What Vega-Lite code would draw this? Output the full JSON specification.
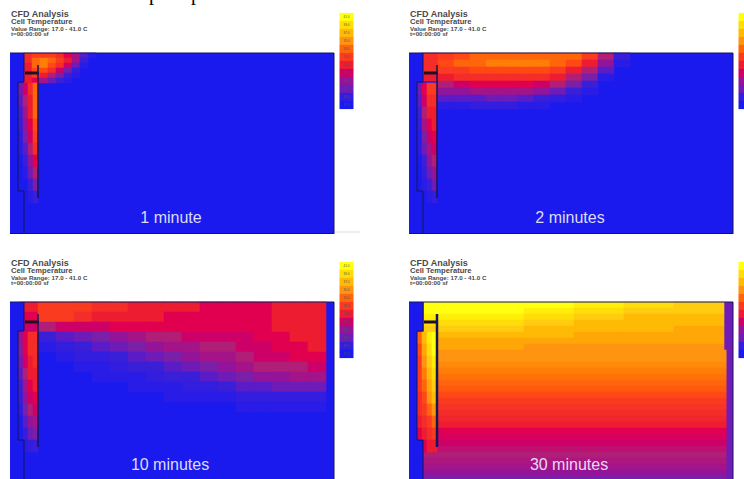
{"$schema":"https://vega.github.io/schema/vega-lite/v6.json","padding":0,"spacing":0,"background":"white","config":{"view":{"stroke":null}},
"datasets":{
"bg":[{"x":0,"x2":324,"y":0,"y2":181,"t":17}],
"bg4":[{"x":0,"x2":324,"y":0,"y2":181,"t":22}],
"walls":[{"x":0,"x2":14,"y":0,"y2":29,"t":17},{"x":0,"x2":8,"y":29,"y2":138,"t":17},{"x":0,"x2":14,"y":138,"y2":181,"t":17}],
"vl":[{"x":14,"y":0,"y2":29},{"x":8,"y":29,"y2":138},{"x":14,"y":138,"y2":181},{"x":324,"y":0,"y2":181}],
"hl":[{"x":0,"x2":324,"y":0},{"x":8,"x2":14,"y":29},{"x":8,"x2":14,"y":138},{"x":0,"x2":324,"y":180.5}],
"gl":[{"x":325,"x2":350,"y":179}],
"bar":[{"x":15,"x2":29,"y":20}],
"plate":[{"x":28,"y":12,"y2":145}],
"lg":[{"x":336.5,"y":-36,"t":41},{"x":336.5,"y":-28,"t":39},{"x":336.5,"y":-20,"t":37},{"x":336.5,"y":-12,"t":35},{"x":336.5,"y":-4,"t":33},{"x":336.5,"y":4,"t":31},{"x":336.5,"y":12,"t":29},{"x":336.5,"y":20,"t":27},{"x":336.5,"y":28,"t":24},{"x":336.5,"y":36,"t":22},{"x":336.5,"y":44,"t":19},{"x":336.5,"y":52,"t":17}],
"head":[{"k":1,"x":1,"y":-36,"label":"CFD Analysis"},{"k":2,"x":1,"y":-29,"label":"Cell Temperature"},{"k":3,"x":1,"y":-22,"label":"Value Range: 17.0 - 41.0 C"},{"k":3,"x":1,"y":-17,"label":"t=00:00:00 sf"}],
"top":[{"x":139,"y":-53,"label":"p"},{"x":181,"y":-53,"label":"p"}],
"s1":[{"x":10.5,"y":36,"t":22},{"x":15.5,"y":36,"t":27},{"x":20.5,"y":36,"t":30},{"x":25.5,"y":36,"t":33},{"x":10.5,"y":48,"t":21},{"x":15.5,"y":48,"t":26},{"x":20.5,"y":48,"t":29},{"x":25.5,"y":48,"t":33},{"x":10.5,"y":60,"t":20},{"x":15.5,"y":60,"t":25},{"x":20.5,"y":60,"t":29},{"x":25.5,"y":60,"t":33},{"x":10.5,"y":72,"t":19},{"x":15.5,"y":72,"t":24},{"x":20.5,"y":72,"t":28},{"x":25.5,"y":72,"t":32},{"x":10.5,"y":84,"t":18},{"x":15.5,"y":84,"t":23},{"x":20.5,"y":84,"t":27},{"x":25.5,"y":84,"t":31},{"x":10.5,"y":96,"t":18},{"x":15.5,"y":96,"t":21},{"x":20.5,"y":96,"t":26},{"x":25.5,"y":96,"t":30},{"x":10.5,"y":108,"t":17},{"x":15.5,"y":108,"t":20},{"x":20.5,"y":108,"t":24},{"x":25.5,"y":108,"t":28},{"x":10.5,"y":120,"t":17},{"x":15.5,"y":120,"t":18},{"x":20.5,"y":120,"t":22},{"x":25.5,"y":120,"t":26},{"x":15.5,"y":132,"t":17},{"x":20.5,"y":132,"t":20},{"x":25.5,"y":132,"t":23},{"x":20.5,"y":144,"t":18},{"x":25.5,"y":144,"t":20}],
"s2":[{"x":10.5,"y":36,"t":22},{"x":15.5,"y":36,"t":28},{"x":20.5,"y":36,"t":31},{"x":25.5,"y":36,"t":31},{"x":10.5,"y":48,"t":21},{"x":15.5,"y":48,"t":27},{"x":20.5,"y":48,"t":30},{"x":25.5,"y":48,"t":30},{"x":10.5,"y":60,"t":20},{"x":15.5,"y":60,"t":26},{"x":20.5,"y":60,"t":29},{"x":25.5,"y":60,"t":29},{"x":10.5,"y":72,"t":19},{"x":15.5,"y":72,"t":25},{"x":20.5,"y":72,"t":28},{"x":25.5,"y":72,"t":29},{"x":10.5,"y":84,"t":18},{"x":15.5,"y":84,"t":23},{"x":20.5,"y":84,"t":27},{"x":25.5,"y":84,"t":28},{"x":10.5,"y":96,"t":18},{"x":15.5,"y":96,"t":22},{"x":20.5,"y":96,"t":25},{"x":25.5,"y":96,"t":27},{"x":10.5,"y":108,"t":17},{"x":15.5,"y":108,"t":20},{"x":20.5,"y":108,"t":24},{"x":25.5,"y":108,"t":26},{"x":10.5,"y":120,"t":17},{"x":15.5,"y":120,"t":19},{"x":20.5,"y":120,"t":22},{"x":25.5,"y":120,"t":24},{"x":15.5,"y":132,"t":18},{"x":20.5,"y":132,"t":20},{"x":25.5,"y":132,"t":22},{"x":20.5,"y":144,"t":18},{"x":25.5,"y":144,"t":19}],
"s3":[{"x":10.5,"y":36,"t":24},{"x":15.5,"y":36,"t":28},{"x":20.5,"y":36,"t":30},{"x":25.5,"y":36,"t":30},{"x":10.5,"y":48,"t":23},{"x":15.5,"y":48,"t":28},{"x":20.5,"y":48,"t":30},{"x":25.5,"y":48,"t":30},{"x":10.5,"y":60,"t":22},{"x":15.5,"y":60,"t":27},{"x":20.5,"y":60,"t":29},{"x":25.5,"y":60,"t":30},{"x":10.5,"y":72,"t":21},{"x":15.5,"y":72,"t":26},{"x":20.5,"y":72,"t":29},{"x":25.5,"y":72,"t":29},{"x":10.5,"y":84,"t":20},{"x":15.5,"y":84,"t":25},{"x":20.5,"y":84,"t":28},{"x":25.5,"y":84,"t":29},{"x":10.5,"y":96,"t":19},{"x":15.5,"y":96,"t":24},{"x":20.5,"y":96,"t":27},{"x":25.5,"y":96,"t":28},{"x":10.5,"y":108,"t":18},{"x":15.5,"y":108,"t":23},{"x":20.5,"y":108,"t":26},{"x":25.5,"y":108,"t":27},{"x":10.5,"y":120,"t":17},{"x":15.5,"y":120,"t":21},{"x":20.5,"y":120,"t":24},{"x":25.5,"y":120,"t":25},{"x":15.5,"y":132,"t":19},{"x":20.5,"y":132,"t":22},{"x":25.5,"y":132,"t":23},{"x":15.5,"y":144,"t":18},{"x":20.5,"y":144,"t":19},{"x":25.5,"y":144,"t":20}],
"s4":[{"x":10.5,"y":36,"t":33},{"x":15.5,"y":36,"t":37},{"x":20.5,"y":36,"t":40},{"x":25.5,"y":36,"t":41},{"x":10.5,"y":48,"t":32},{"x":15.5,"y":48,"t":36},{"x":20.5,"y":48,"t":39},{"x":25.5,"y":48,"t":41},{"x":10.5,"y":60,"t":31},{"x":15.5,"y":60,"t":35},{"x":20.5,"y":60,"t":38},{"x":25.5,"y":60,"t":40},{"x":10.5,"y":72,"t":31},{"x":15.5,"y":72,"t":34},{"x":20.5,"y":72,"t":37},{"x":25.5,"y":72,"t":39},{"x":10.5,"y":84,"t":31},{"x":15.5,"y":84,"t":33},{"x":20.5,"y":84,"t":36},{"x":25.5,"y":84,"t":38},{"x":10.5,"y":96,"t":30},{"x":15.5,"y":96,"t":32},{"x":20.5,"y":96,"t":35},{"x":25.5,"y":96,"t":37},{"x":10.5,"y":108,"t":30},{"x":15.5,"y":108,"t":31},{"x":20.5,"y":108,"t":33},{"x":25.5,"y":108,"t":35},{"x":10.5,"y":120,"t":29},{"x":15.5,"y":120,"t":30},{"x":20.5,"y":120,"t":31},{"x":25.5,"y":120,"t":33},{"x":10.5,"y":132,"t":28},{"x":15.5,"y":132,"t":29},{"x":20.5,"y":132,"t":30},{"x":25.5,"y":132,"t":31},{"x":15.5,"y":144,"t":28},{"x":20.5,"y":144,"t":29},{"x":25.5,"y":144,"t":29}],
"p1":[{"x":18,"y":2.5,"t":30},{"x":26,"y":2.5,"t":31},{"x":34,"y":2.5,"t":31},{"x":42,"y":2.5,"t":31},{"x":50,"y":2.5,"t":30},{"x":58,"y":2.5,"t":28},{"x":66,"y":2.5,"t":25},{"x":74,"y":2.5,"t":21},{"x":82,"y":2.5,"t":18},{"x":18,"y":7.5,"t":30},{"x":26,"y":7.5,"t":33},{"x":34,"y":7.5,"t":34},{"x":42,"y":7.5,"t":33},{"x":50,"y":7.5,"t":31},{"x":58,"y":7.5,"t":29},{"x":66,"y":7.5,"t":25},{"x":74,"y":7.5,"t":20},{"x":18,"y":12.5,"t":29},{"x":26,"y":12.5,"t":33},{"x":34,"y":12.5,"t":34},{"x":42,"y":12.5,"t":32},{"x":50,"y":12.5,"t":30},{"x":58,"y":12.5,"t":27},{"x":66,"y":12.5,"t":22},{"x":74,"y":12.5,"t":18},{"x":18,"y":17.5,"t":29},{"x":26,"y":17.5,"t":32},{"x":34,"y":17.5,"t":32},{"x":42,"y":17.5,"t":30},{"x":50,"y":17.5,"t":27},{"x":58,"y":17.5,"t":23},{"x":66,"y":17.5,"t":19},{"x":18,"y":22.5,"t":29},{"x":26,"y":22.5,"t":31},{"x":34,"y":22.5,"t":29},{"x":42,"y":22.5,"t":26},{"x":50,"y":22.5,"t":23},{"x":58,"y":22.5,"t":20},{"x":66,"y":22.5,"t":18},{"x":18,"y":27.5,"t":29},{"x":26,"y":27.5,"t":28},{"x":34,"y":27.5,"t":25},{"x":42,"y":27.5,"t":22},{"x":50,"y":27.5,"t":20},{"x":58,"y":27.5,"t":18}],
"p2":[{"x":21,"y":3.5,"t":30},{"x":37,"y":3.5,"t":31},{"x":53,"y":3.5,"t":32},{"x":69,"y":3.5,"t":33},{"x":85,"y":3.5,"t":33},{"x":101,"y":3.5,"t":33},{"x":117,"y":3.5,"t":33},{"x":133,"y":3.5,"t":33},{"x":149,"y":3.5,"t":33},{"x":165,"y":3.5,"t":33},{"x":181,"y":3.5,"t":31},{"x":197,"y":3.5,"t":26},{"x":213,"y":3.5,"t":20},{"x":21,"y":10.5,"t":30},{"x":37,"y":10.5,"t":32},{"x":53,"y":10.5,"t":33},{"x":69,"y":10.5,"t":33},{"x":85,"y":10.5,"t":34},{"x":101,"y":10.5,"t":34},{"x":117,"y":10.5,"t":34},{"x":133,"y":10.5,"t":34},{"x":149,"y":10.5,"t":33},{"x":165,"y":10.5,"t":32},{"x":181,"y":10.5,"t":29},{"x":197,"y":10.5,"t":24},{"x":213,"y":10.5,"t":18},{"x":21,"y":17.5,"t":30},{"x":37,"y":17.5,"t":31},{"x":53,"y":17.5,"t":31},{"x":69,"y":17.5,"t":32},{"x":85,"y":17.5,"t":32},{"x":101,"y":17.5,"t":32},{"x":117,"y":17.5,"t":32},{"x":133,"y":17.5,"t":32},{"x":149,"y":17.5,"t":31},{"x":165,"y":17.5,"t":29},{"x":181,"y":17.5,"t":26},{"x":197,"y":17.5,"t":21},{"x":21,"y":24.5,"t":29},{"x":37,"y":24.5,"t":29},{"x":53,"y":24.5,"t":30},{"x":69,"y":24.5,"t":30},{"x":85,"y":24.5,"t":30},{"x":101,"y":24.5,"t":30},{"x":117,"y":24.5,"t":30},{"x":133,"y":24.5,"t":30},{"x":149,"y":24.5,"t":29},{"x":165,"y":24.5,"t":26},{"x":181,"y":24.5,"t":23},{"x":197,"y":24.5,"t":18},{"x":37,"y":31.5,"t":26},{"x":53,"y":31.5,"t":27},{"x":69,"y":31.5,"t":28},{"x":85,"y":31.5,"t":28},{"x":101,"y":31.5,"t":28},{"x":117,"y":31.5,"t":28},{"x":133,"y":31.5,"t":27},{"x":149,"y":31.5,"t":26},{"x":165,"y":31.5,"t":23},{"x":181,"y":31.5,"t":20},{"x":37,"y":38.5,"t":24},{"x":53,"y":38.5,"t":24},{"x":69,"y":38.5,"t":25},{"x":85,"y":38.5,"t":25},{"x":101,"y":38.5,"t":25},{"x":117,"y":38.5,"t":25},{"x":133,"y":38.5,"t":24},{"x":149,"y":38.5,"t":22},{"x":165,"y":38.5,"t":20},{"x":181,"y":38.5,"t":18},{"x":37,"y":45.5,"t":21},{"x":53,"y":45.5,"t":21},{"x":69,"y":45.5,"t":21},{"x":85,"y":45.5,"t":22},{"x":101,"y":45.5,"t":22},{"x":117,"y":45.5,"t":21},{"x":133,"y":45.5,"t":20},{"x":149,"y":45.5,"t":19},{"x":165,"y":45.5,"t":18},{"x":37,"y":52.5,"t":18},{"x":53,"y":52.5,"t":18},{"x":69,"y":52.5,"t":19},{"x":85,"y":52.5,"t":19},{"x":101,"y":52.5,"t":19},{"x":117,"y":52.5,"t":18},{"x":133,"y":52.5,"t":18}],
"p3":[{"x":19,"y":5,"t":29},{"x":37,"y":5,"t":31},{"x":55,"y":5,"t":31},{"x":73,"y":5,"t":31},{"x":91,"y":5,"t":30},{"x":109,"y":5,"t":30},{"x":127,"y":5,"t":29},{"x":145,"y":5,"t":29},{"x":163,"y":5,"t":29},{"x":181,"y":5,"t":29},{"x":199,"y":5,"t":28},{"x":217,"y":5,"t":28},{"x":235,"y":5,"t":28},{"x":253,"y":5,"t":28},{"x":271,"y":5,"t":29},{"x":289,"y":5,"t":29},{"x":307,"y":5,"t":29},
{"x":19,"y":15,"t":28},{"x":37,"y":15,"t":31},{"x":55,"y":15,"t":31},{"x":73,"y":15,"t":30},{"x":91,"y":15,"t":29},{"x":109,"y":15,"t":29},{"x":127,"y":15,"t":29},{"x":145,"y":15,"t":29},{"x":163,"y":15,"t":28},{"x":181,"y":15,"t":28},{"x":199,"y":15,"t":28},{"x":217,"y":15,"t":28},{"x":235,"y":15,"t":28},{"x":253,"y":15,"t":28},{"x":271,"y":15,"t":29},{"x":289,"y":15,"t":29},{"x":307,"y":15,"t":29},
{"x":19,"y":25,"t":27},{"x":37,"y":25,"t":26},{"x":55,"y":25,"t":27},{"x":73,"y":25,"t":27},{"x":91,"y":25,"t":27},{"x":109,"y":25,"t":28},{"x":127,"y":25,"t":28},{"x":145,"y":25,"t":28},{"x":163,"y":25,"t":28},{"x":181,"y":25,"t":28},{"x":199,"y":25,"t":28},{"x":217,"y":25,"t":28},{"x":235,"y":25,"t":28},{"x":253,"y":25,"t":28},{"x":271,"y":25,"t":29},{"x":289,"y":25,"t":29},{"x":307,"y":25,"t":29},
{"x":37,"y":35,"t":20},{"x":55,"y":35,"t":21},{"x":73,"y":35,"t":22},{"x":91,"y":35,"t":23},{"x":109,"y":35,"t":24},{"x":127,"y":35,"t":25},{"x":145,"y":35,"t":26},{"x":163,"y":35,"t":26},{"x":181,"y":35,"t":27},{"x":199,"y":35,"t":27},{"x":217,"y":35,"t":27},{"x":235,"y":35,"t":27},{"x":253,"y":35,"t":28},{"x":271,"y":35,"t":28},{"x":289,"y":35,"t":29},{"x":307,"y":35,"t":29},
{"x":37,"y":45,"t":18},{"x":55,"y":45,"t":19},{"x":73,"y":45,"t":20},{"x":91,"y":45,"t":21},{"x":109,"y":45,"t":22},{"x":127,"y":45,"t":23},{"x":145,"y":45,"t":24},{"x":163,"y":45,"t":25},{"x":181,"y":45,"t":25},{"x":199,"y":45,"t":26},{"x":217,"y":45,"t":26},{"x":235,"y":45,"t":27},{"x":253,"y":45,"t":27},{"x":271,"y":45,"t":28},{"x":289,"y":45,"t":28},{"x":307,"y":45,"t":29},
{"x":55,"y":55,"t":18},{"x":73,"y":55,"t":19},{"x":91,"y":55,"t":19},{"x":109,"y":55,"t":20},{"x":127,"y":55,"t":21},{"x":145,"y":55,"t":22},{"x":163,"y":55,"t":23},{"x":181,"y":55,"t":24},{"x":199,"y":55,"t":25},{"x":217,"y":55,"t":25},{"x":235,"y":55,"t":26},{"x":253,"y":55,"t":27},{"x":271,"y":55,"t":27},{"x":289,"y":55,"t":28},{"x":307,"y":55,"t":28},
{"x":73,"y":65,"t":18},{"x":91,"y":65,"t":18},{"x":109,"y":65,"t":19},{"x":127,"y":65,"t":20},{"x":145,"y":65,"t":20},{"x":163,"y":65,"t":21},{"x":181,"y":65,"t":22},{"x":199,"y":65,"t":23},{"x":217,"y":65,"t":24},{"x":235,"y":65,"t":25},{"x":253,"y":65,"t":26},{"x":271,"y":65,"t":26},{"x":289,"y":65,"t":26},{"x":307,"y":65,"t":27},
{"x":91,"y":75,"t":18},{"x":109,"y":75,"t":18},{"x":127,"y":75,"t":18},{"x":145,"y":75,"t":19},{"x":163,"y":75,"t":20},{"x":181,"y":75,"t":20},{"x":199,"y":75,"t":21},{"x":217,"y":75,"t":22},{"x":235,"y":75,"t":23},{"x":253,"y":75,"t":24},{"x":271,"y":75,"t":24},{"x":289,"y":75,"t":25},{"x":307,"y":75,"t":25},
{"x":127,"y":85,"t":18},{"x":145,"y":85,"t":18},{"x":163,"y":85,"t":18},{"x":181,"y":85,"t":19},{"x":199,"y":85,"t":19},{"x":217,"y":85,"t":20},{"x":235,"y":85,"t":21},{"x":253,"y":85,"t":21},{"x":271,"y":85,"t":22},{"x":289,"y":85,"t":22},{"x":307,"y":85,"t":22},
{"x":163,"y":95,"t":18},{"x":181,"y":95,"t":18},{"x":199,"y":95,"t":18},{"x":217,"y":95,"t":18},{"x":235,"y":95,"t":19},{"x":253,"y":95,"t":19},{"x":271,"y":95,"t":19},{"x":289,"y":95,"t":19},{"x":307,"y":95,"t":19},
{"x":235,"y":105,"t":18},{"x":253,"y":105,"t":18},{"x":271,"y":105,"t":18},{"x":289,"y":105,"t":18},{"x":307,"y":105,"t":18}],
"p4a":[{"x":40,"y":3,"t":41},{"x":90,"y":3,"t":41},{"x":140,"y":3,"t":41},{"x":190,"y":3,"t":40},{"x":240,"y":3,"t":39},{"x":290,"y":3,"t":38},{"x":40,"y":9,"t":41},{"x":90,"y":9,"t":41},{"x":140,"y":9,"t":40},{"x":190,"y":9,"t":39},{"x":240,"y":9,"t":38},{"x":290,"y":9,"t":38},{"x":40,"y":15,"t":40},{"x":90,"y":15,"t":40},{"x":140,"y":15,"t":39},{"x":190,"y":15,"t":38},{"x":240,"y":15,"t":37},{"x":290,"y":15,"t":37},{"x":40,"y":21,"t":39},{"x":90,"y":21,"t":39},{"x":140,"y":21,"t":38},{"x":190,"y":21,"t":37},{"x":240,"y":21,"t":37},{"x":290,"y":21,"t":37},{"x":40,"y":27,"t":38},{"x":90,"y":27,"t":38},{"x":140,"y":27,"t":37},{"x":190,"y":27,"t":37},{"x":240,"y":27,"t":37},{"x":290,"y":27,"t":36},{"x":40,"y":33,"t":37},{"x":90,"y":33,"t":37},{"x":140,"y":33,"t":37},{"x":190,"y":33,"t":36},{"x":240,"y":33,"t":36},{"x":290,"y":33,"t":36},{"x":40,"y":39,"t":36},{"x":90,"y":39,"t":36},{"x":140,"y":39,"t":36},{"x":190,"y":39,"t":36},{"x":240,"y":39,"t":36},{"x":290,"y":39,"t":36},{"x":40,"y":45,"t":36},{"x":90,"y":45,"t":36},{"x":140,"y":45,"t":35},{"x":190,"y":45,"t":35},{"x":240,"y":45,"t":35},{"x":290,"y":45,"t":35}],
"p4b":[{"x":166,"y":51,"t":35},{"x":166,"y":57,"t":35},{"x":166,"y":63,"t":34.5},{"x":166,"y":69,"t":34},{"x":166,"y":75,"t":33.5},{"x":166,"y":81,"t":33},{"x":166,"y":87,"t":32.5},{"x":166,"y":93,"t":32},{"x":166,"y":99,"t":31},{"x":166,"y":105,"t":30.5},{"x":166,"y":111,"t":30},{"x":166,"y":117,"t":29.5},{"x":166,"y":123,"t":29},{"x":166,"y":129,"t":28},{"x":166,"y":135,"t":27.5},{"x":166,"y":141,"t":27},{"x":166,"y":147,"t":26.5},{"x":166,"y":153,"t":26},{"x":166,"y":159,"t":25.5},{"x":166,"y":165,"t":25},{"x":166,"y":171,"t":24},{"x":166,"y":177,"t":23}]
},
"vconcat":[
{"spacing":0,"hconcat":[
{"width":399,"height":249,"encoding":{"x":{"field":"x","type":"quantitative","axis":null,"scale":{"domain":[-10,389],"nice":false,"zero":false}},"y":{"field":"y","type":"quantitative","axis":null,"scale":{"domain":[-53,196],"reverse":true,"nice":false,"zero":false}},"color":{"field":"t","type":"quantitative","legend":null,"scale":{"domain":[17,20,23,26,29,32,35,38,41],"range":["#1a1aee","#3a1fd8","#7a1fa8","#b01e78","#ee1c30","#ff4814","#ff9410","#ffcc10","#ffff10"]}}},
"layer":[
{"data":{"name":"bg"},"mark":{"type":"rect","clip":true},"encoding":{"x2":{"field":"x2"},"y2":{"field":"y2"}}},
{"data":{"name":"p1"},"mark":{"type":"rect","width":8.6,"height":5.6}},
{"data":{"name":"s1"},"mark":{"type":"rect","width":5.6,"height":12.6}},
{"data":{"name":"walls"},"mark":{"type":"rect","clip":true},"encoding":{"x2":{"field":"x2"},"y2":{"field":"y2"}}},
{"data":{"name":"vl"},"mark":{"type":"rule","strokeWidth":1,"clip":true},"encoding":{"y2":{"field":"y2"},"color":{"value":"#14145a"}}},
{"data":{"name":"hl"},"mark":{"type":"rule","strokeWidth":1,"clip":true},"encoding":{"x2":{"field":"x2"},"color":{"value":"#14145a"}}},
{"data":{"name":"gl"},"mark":{"type":"rule","strokeWidth":1},"encoding":{"x2":{"field":"x2"},"color":{"value":"#dddddd"}}},
{"data":{"name":"bar"},"mark":{"type":"rule","strokeWidth":3},"encoding":{"x2":{"field":"x2"},"color":{"value":"#201020"}}},
{"data":{"name":"plate"},"mark":{"type":"rule","strokeWidth":1.5},"encoding":{"y2":{"field":"y2"},"color":{"value":"#14145a"}}},
{"data":{"name":"lg"},"mark":{"type":"rect","width":14,"height":8.2,"clip":true}},
{"data":{"name":"lg"},"mark":{"type":"text","fontSize":3,"clip":true,"font":"Liberation Sans"},"encoding":{"text":{"field":"t","format":".1f"},"color":{"value":"#555555"}}},
{"data":{"name":"head"},"mark":{"type":"text","align":"left","baseline":"alphabetic","font":"Liberation Sans","fontWeight":"bold"},"encoding":{"text":{"field":"label"},"color":{"value":"#4a4a4a"},"size":{"field":"k","type":"ordinal","legend":null,"scale":{"domain":[1,2,3],"range":[9,6.2,4.4]}}}},
{"data":{"name":"top"},"mark":{"type":"text","align":"left","baseline":"alphabetic","clip":true,"font":"Liberation Serif","fontSize":20},"encoding":{"text":{"field":"label"},"color":{"value":"#000000"}}},
{"data":{"values":[{"x":161,"y":170,"label":"1 minute"}]},"mark":{"type":"text","baseline":"alphabetic","font":"Liberation Sans","fontSize":16},"encoding":{"text":{"field":"label"},"color":{"value":"#dcdcf8"}}}
]},
{"width":345,"height":249,"encoding":{"x":{"field":"x","type":"quantitative","axis":null,"scale":{"domain":[-10,335],"nice":false,"zero":false}},"y":{"field":"y","type":"quantitative","axis":null,"scale":{"domain":[-53,196],"reverse":true,"nice":false,"zero":false}},"color":{"field":"t","type":"quantitative","legend":null,"scale":{"domain":[17,20,23,26,29,32,35,38,41],"range":["#1a1aee","#3a1fd8","#7a1fa8","#b01e78","#ee1c30","#ff4814","#ff9410","#ffcc10","#ffff10"]}}},
"layer":[
{"data":{"name":"bg"},"mark":{"type":"rect","clip":true},"encoding":{"x2":{"field":"x2"},"y2":{"field":"y2"}}},
{"data":{"name":"p2"},"mark":{"type":"rect","width":16.6,"height":7.6}},
{"data":{"name":"s2"},"mark":{"type":"rect","width":5.6,"height":12.6}},
{"data":{"name":"walls"},"mark":{"type":"rect","clip":true},"encoding":{"x2":{"field":"x2"},"y2":{"field":"y2"}}},
{"data":{"name":"vl"},"mark":{"type":"rule","strokeWidth":1,"clip":true},"encoding":{"y2":{"field":"y2"},"color":{"value":"#14145a"}}},
{"data":{"name":"hl"},"mark":{"type":"rule","strokeWidth":1,"clip":true},"encoding":{"x2":{"field":"x2"},"color":{"value":"#14145a"}}},
{"data":{"name":"bar"},"mark":{"type":"rule","strokeWidth":3},"encoding":{"x2":{"field":"x2"},"color":{"value":"#201020"}}},
{"data":{"name":"plate"},"mark":{"type":"rule","strokeWidth":1.5},"encoding":{"y2":{"field":"y2"},"color":{"value":"#14145a"}}},
{"data":{"name":"lg"},"mark":{"type":"rect","width":14,"height":8.2,"clip":true}},
{"data":{"name":"head"},"mark":{"type":"text","align":"left","baseline":"alphabetic","font":"Liberation Sans","fontWeight":"bold"},"encoding":{"text":{"field":"label"},"color":{"value":"#4a4a4a"},"size":{"field":"k","type":"ordinal","legend":null,"scale":{"domain":[1,2,3],"range":[9,6.2,4.4]}}}},
{"data":{"values":[{"x":161,"y":170,"label":"2 minutes"}]},"mark":{"type":"text","baseline":"alphabetic","font":"Liberation Sans","fontSize":16},"encoding":{"text":{"field":"label"},"color":{"value":"#dcdcf8"}}}
]}
]},
{"spacing":0,"hconcat":[
{"width":399,"height":230,"encoding":{"x":{"field":"x","type":"quantitative","axis":null,"scale":{"domain":[-10,389],"nice":false,"zero":false}},"y":{"field":"y","type":"quantitative","axis":null,"scale":{"domain":[-53,177],"reverse":true,"nice":false,"zero":false}},"color":{"field":"t","type":"quantitative","legend":null,"scale":{"domain":[17,20,23,26,29,32,35,38,41],"range":["#1a1aee","#3a1fd8","#7a1fa8","#b01e78","#ee1c30","#ff4814","#ff9410","#ffcc10","#ffff10"]}}},
"layer":[
{"data":{"name":"bg"},"mark":{"type":"rect","clip":true},"encoding":{"x2":{"field":"x2"},"y2":{"field":"y2"}}},
{"data":{"name":"p3"},"mark":{"type":"rect","width":18.6,"height":10.6}},
{"data":{"name":"s3"},"mark":{"type":"rect","width":5.6,"height":12.6}},
{"data":{"name":"walls"},"mark":{"type":"rect","clip":true},"encoding":{"x2":{"field":"x2"},"y2":{"field":"y2"}}},
{"data":{"name":"vl"},"mark":{"type":"rule","strokeWidth":1,"clip":true},"encoding":{"y2":{"field":"y2"},"color":{"value":"#14145a"}}},
{"data":{"name":"hl"},"mark":{"type":"rule","strokeWidth":1,"clip":true},"encoding":{"x2":{"field":"x2"},"color":{"value":"#14145a"}}},
{"data":{"name":"bar"},"mark":{"type":"rule","strokeWidth":3},"encoding":{"x2":{"field":"x2"},"color":{"value":"#201020"}}},
{"data":{"name":"plate"},"mark":{"type":"rule","strokeWidth":1.5},"encoding":{"y2":{"field":"y2"},"color":{"value":"#14145a"}}},
{"data":{"name":"lg"},"mark":{"type":"rect","width":14,"height":8.2,"clip":true}},
{"data":{"name":"lg"},"mark":{"type":"text","fontSize":3,"clip":true,"font":"Liberation Sans"},"encoding":{"text":{"field":"t","format":".1f"},"color":{"value":"#555555"}}},
{"data":{"name":"head"},"mark":{"type":"text","align":"left","baseline":"alphabetic","font":"Liberation Sans","fontWeight":"bold"},"encoding":{"text":{"field":"label"},"color":{"value":"#4a4a4a"},"size":{"field":"k","type":"ordinal","legend":null,"scale":{"domain":[1,2,3],"range":[9,6.2,4.4]}}}},
{"data":{"values":[{"x":160,"y":168,"label":"10 minutes"}]},"mark":{"type":"text","baseline":"alphabetic","font":"Liberation Sans","fontSize":16},"encoding":{"text":{"field":"label"},"color":{"value":"#dcdcf8"}}}
]},
{"width":345,"height":230,"encoding":{"x":{"field":"x","type":"quantitative","axis":null,"scale":{"domain":[-10,335],"nice":false,"zero":false}},"y":{"field":"y","type":"quantitative","axis":null,"scale":{"domain":[-53,177],"reverse":true,"nice":false,"zero":false}},"color":{"field":"t","type":"quantitative","legend":null,"scale":{"domain":[17,20,23,26,29,32,35,38,41],"range":["#1a1aee","#3a1fd8","#7a1fa8","#b01e78","#ee1c30","#ff4814","#ff9410","#ffcc10","#ffff10"]}}},
"layer":[
{"data":{"name":"bg4"},"mark":{"type":"rect","clip":true},"encoding":{"x2":{"field":"x2"},"y2":{"field":"y2"}}},
{"data":{"name":"p4a"},"mark":{"type":"rect","width":50.6,"height":6.6}},
{"data":{"name":"p4b"},"mark":{"type":"rect","width":303,"height":6.6,"clip":true}},
{"data":{"name":"s4"},"mark":{"type":"rect","width":5.6,"height":12.6}},
{"data":{"name":"walls"},"mark":{"type":"rect","clip":true},"encoding":{"x2":{"field":"x2"},"y2":{"field":"y2"}}},
{"data":{"name":"vl"},"mark":{"type":"rule","strokeWidth":1,"clip":true},"encoding":{"y2":{"field":"y2"},"color":{"value":"#14145a"}}},
{"data":{"name":"hl"},"mark":{"type":"rule","strokeWidth":1,"clip":true},"encoding":{"x2":{"field":"x2"},"color":{"value":"#14145a"}}},
{"data":{"name":"bar"},"mark":{"type":"rule","strokeWidth":3},"encoding":{"x2":{"field":"x2"},"color":{"value":"#201020"}}},
{"data":{"name":"plate"},"mark":{"type":"rule","strokeWidth":2.5},"encoding":{"y2":{"field":"y2"},"color":{"value":"#14145a"}}},
{"data":{"name":"lg"},"mark":{"type":"rect","width":14,"height":8.2,"clip":true}},
{"data":{"name":"head"},"mark":{"type":"text","align":"left","baseline":"alphabetic","font":"Liberation Sans","fontWeight":"bold"},"encoding":{"text":{"field":"label"},"color":{"value":"#4a4a4a"},"size":{"field":"k","type":"ordinal","legend":null,"scale":{"domain":[1,2,3],"range":[9,6.2,4.4]}}}},
{"data":{"values":[{"x":160,"y":168,"label":"30 minutes"}]},"mark":{"type":"text","baseline":"alphabetic","font":"Liberation Sans","fontSize":16},"encoding":{"text":{"field":"label"},"color":{"value":"#ecd8f8"}}}
]}
]}
]}
